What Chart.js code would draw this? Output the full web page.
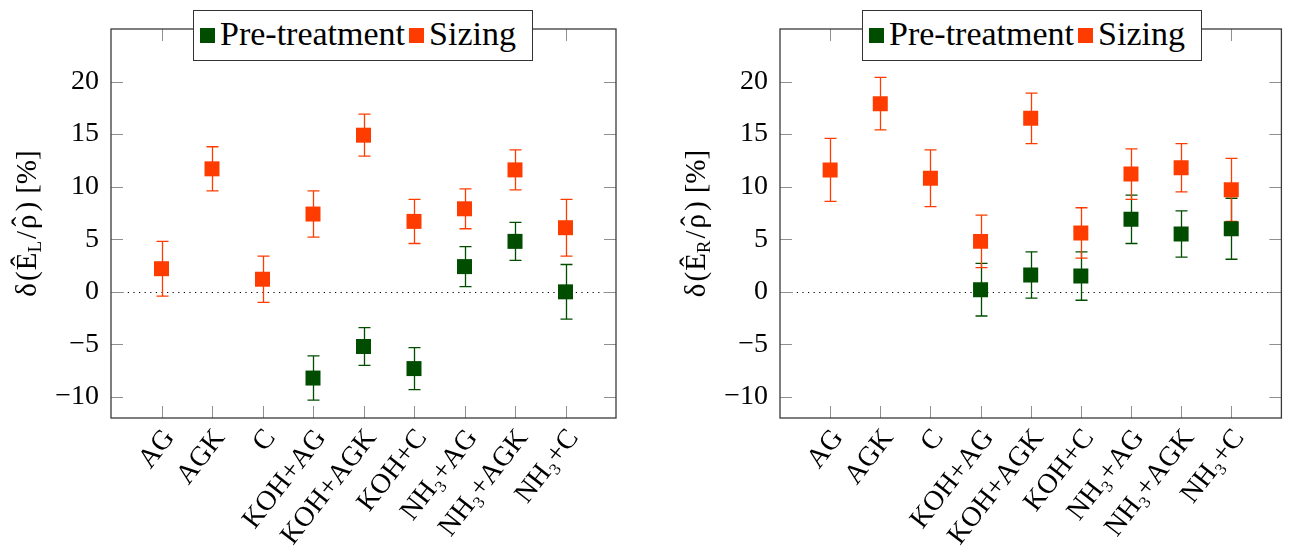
<!DOCTYPE html>
<html><head><meta charset="utf-8">
<script src="https://cdn.jsdelivr.net/npm/chart.js@4.4.1/dist/chart.umd.min.js"></script>
<style>
html,body{margin:0;padding:0;background:#fff;}
#wrap{position:relative;width:1292px;height:550px;overflow:hidden;background:#fff;}
canvas{position:absolute;top:0;}
.legend{position:absolute;top:10px;height:51px;width:340px;box-sizing:border-box;border:1.3px solid #333;background:#fff;
  font-family:'Liberation Serif','DejaVu Serif',serif;font-size:34px;color:#000;display:flex;align-items:center;padding-left:6px;white-space:nowrap;}
.legend .mk{display:inline-block;width:15px;height:15px;margin-right:5px;}
.legend .tx{position:relative;top:-2px;margin-right:4px;}
</style>
</head>
<body>
<div id="wrap">
  <canvas id="c1" width="646" height="550" style="left:0px"></canvas>
  <canvas id="c2" width="646" height="550" style="left:646px"></canvas>
</div>
<script>
// ---- data ----
const categories = ['AG','AGK','C','KOH+AG','KOH+AGK','KOH+C','NH₃+AG','NH₃+AGK','NH₃+C'];
const seriesNames = ['Pre-treatment','Sizing'];
const seriesColors = ['#004d00','#ff3c00'];
const yTicks = [-10,-5,0,5,10,15,20];

const leftPre        = [null,null,null,-8.2,-5.2,-7.3,2.4,4.8,0.0];
const leftPreErr     = [null,null,null, 2.1, 1.8, 2.0,1.9,1.8,2.6];
const leftSizing     = [2.2,11.7,1.2,7.4,14.9,6.7,7.9,11.6,6.1];
const leftSizingErr  = [2.6, 2.1,2.2,2.2, 2.0,2.1,1.9, 1.9,2.7];

const rightPre       = [null,null,null,0.2,1.6,1.5,6.9,5.5,6.0];
const rightPreErr    = [null,null,null,2.5,2.2,2.3,2.3,2.2,2.9];
const rightSizing    = [11.6,17.9,10.8,4.8,16.5,5.6,11.2,11.8,9.7];
const rightSizingErr = [ 3.0, 2.5, 2.7,2.5, 2.4,2.4, 2.4, 2.3,3.0];

const yTitleSubLeft = 'L';
const yTitleSubRight = 'R';

const FONT = "'Liberation Serif', 'DejaVu Serif', serif";

function pts(vals, errs) {
  const out = [];
  vals.forEach((v, i) => { if (v !== null) out.push({x: i, y: v, e: errs[i]}); });
  return out;
}

const framePlugin = {
  id: 'frame',
  beforeDatasetsDraw(chart) {
    const ctx = chart.ctx, a = chart.chartArea, xs = chart.scales.x, ys = chart.scales.y;
    ctx.save();
    const y0 = Math.round(ys.getPixelForValue(0)) + 0.5;
    ctx.strokeStyle = '#000'; ctx.lineWidth = 1.2; ctx.setLineDash([1.2, 4.4]);
    ctx.beginPath(); ctx.moveTo(a.left, y0); ctx.lineTo(a.right, y0); ctx.stroke();
    ctx.setLineDash([]);
    ctx.strokeStyle = '#8f8f8f'; ctx.lineWidth = 1;
    const TL = 12;
    categories.forEach((_, i) => {
      const x = Math.round(xs.getPixelForValue(i)) + 0.5;
      ctx.beginPath();
      ctx.moveTo(x, a.bottom); ctx.lineTo(x, a.bottom - TL);
      ctx.moveTo(x, a.top); ctx.lineTo(x, a.top + TL);
      ctx.stroke();
    });
    yTicks.forEach(v => {
      const y = Math.round(ys.getPixelForValue(v)) + 0.5;
      ctx.beginPath();
      ctx.moveTo(a.left, y); ctx.lineTo(a.left + TL, y);
      ctx.moveTo(a.right, y); ctx.lineTo(a.right - TL, y);
      ctx.stroke();
    });
    chart.data.datasets.forEach(ds => {
      ctx.strokeStyle = ds.backgroundColor; ctx.lineWidth = 1.3;
      ds.data.forEach(p => {
        const x = Math.round(xs.getPixelForValue(p.x)) + 0.5;
        const yt = ys.getPixelForValue(p.y + p.e), yb = ys.getPixelForValue(p.y - p.e);
        ctx.beginPath();
        ctx.moveTo(x, yt); ctx.lineTo(x, yb);
        ctx.moveTo(x - 6, yt); ctx.lineTo(x + 6, yt);
        ctx.moveTo(x - 6, yb); ctx.lineTo(x + 6, yb);
        ctx.stroke();
      });
    });
    ctx.restore();
  },
  afterDraw(chart) {
    const ctx = chart.ctx, a = chart.chartArea;
    ctx.save();
    ctx.strokeStyle = '#3a3a3a'; ctx.lineWidth = 1.3;
    ctx.strokeRect(a.left, a.top, a.right - a.left, a.bottom - a.top);
    const sub = chart.options.plugins.ytitle.sub;
    const F = 29;
    const main = `${F}px ${FONT}`, small = `${Math.round(F * 0.66)}px ${FONT}`;
    const pieces = [
      {t: 'δ', f: main, g: 0}, {t: '(', f: main, g: 2}, {t: 'Ê', f: main, g: 1},
      {t: sub, f: small, g: 0, dy: 5}, {t: '/', f: main, g: 2},
      {t: 'ρ', f: main, g: 2, hat: true}, {t: ')', f: main, g: 3},
      {t: '[%]', f: main, g: 8}
    ];
    let total = 0;
    pieces.forEach(p => { ctx.font = p.f; p.w = ctx.measureText(p.t).width; total += p.g + p.w; });
    ctx.translate(a.left - 75, (a.top + a.bottom) / 2);
    ctx.rotate(-Math.PI / 2);
    ctx.fillStyle = '#000'; ctx.textBaseline = 'alphabetic'; ctx.textAlign = 'left';
    let x = -total / 2;
    pieces.forEach(p => {
      x += p.g;
      ctx.font = p.f;
      ctx.fillText(p.t, x, p.dy || 0);
      if (p.hat) {
        ctx.textAlign = 'center';
        ctx.fillText('ˆ', x + p.w / 2, -4);
        ctx.textAlign = 'left';
      }
      x += p.w;
    });
    ctx.restore();
  }
};

function makeChart(id, pre, preErr, siz, sizErr, yWidth, padRight, sub) {
  return new Chart(document.getElementById(id), {
    type: 'scatter',
    data: {
      datasets: [
        {label: seriesNames[0], data: pts(pre, preErr), backgroundColor: seriesColors[0], borderWidth: 0,
         pointStyle: 'rect', pointRadius: 10.6, order: 2},
        {label: seriesNames[1], data: pts(siz, sizErr), backgroundColor: seriesColors[1], borderWidth: 0,
         pointStyle: 'rect', pointRadius: 10.6, order: 1}
      ]
    },
    options: {
      responsive: false, animation: false, events: [],
      layout: {padding: {top: 29, right: padRight, left: 0, bottom: 0}},
      plugins: {legend: {display: false}, tooltip: {enabled: false}, ytitle: {sub}},
      scales: {
        x: {
          type: 'linear', min: -1, max: 9,
          afterBuildTicks: s => { s.ticks = categories.map((_, i) => ({value: i})); },
          afterFit: s => { s.height = 132; },
          grid: {display: false, drawTicks: false}, border: {display: false},
          ticks: {autoSkip: false, minRotation: 52, maxRotation: 52, padding: 5, labelOffset: 8, color: '#000',
                  font: {family: FONT, size: 28}, callback: v => categories[v] ?? ''}
        },
        y: {
          min: -12, max: 25,
          afterBuildTicks: s => { s.ticks = yTicks.map(v => ({value: v})); },
          afterFit: s => { s.width = yWidth; },
          grid: {display: false, drawTicks: false}, border: {display: false},
          ticks: {padding: 12, color: '#000', font: {family: FONT, size: 28},
                  callback: v => v < 0 ? '−' + Math.abs(v) : String(v)}
        }
      }
    },
    plugins: [framePlugin]
  });
}

makeChart('c1', leftPre, leftPreErr, leftSizing, leftSizingErr, 111, 30, yTitleSubLeft);
makeChart('c2', rightPre, rightPreErr, rightSizing, rightSizingErr, 134, 7, yTitleSubRight);

function makeLegend(left) {
  const d = document.createElement('div');
  d.className = 'legend'; d.style.left = left + 'px';
  seriesNames.forEach((n, i) => {
    const m = document.createElement('span'); m.className = 'mk'; m.style.background = seriesColors[i];
    const t = document.createElement('span'); t.className = 'tx'; t.textContent = n;
    d.appendChild(m); d.appendChild(t);
  });
  document.getElementById('wrap').appendChild(d);
}
makeLegend(193);
makeLegend(862);
</script>
</body></html>
